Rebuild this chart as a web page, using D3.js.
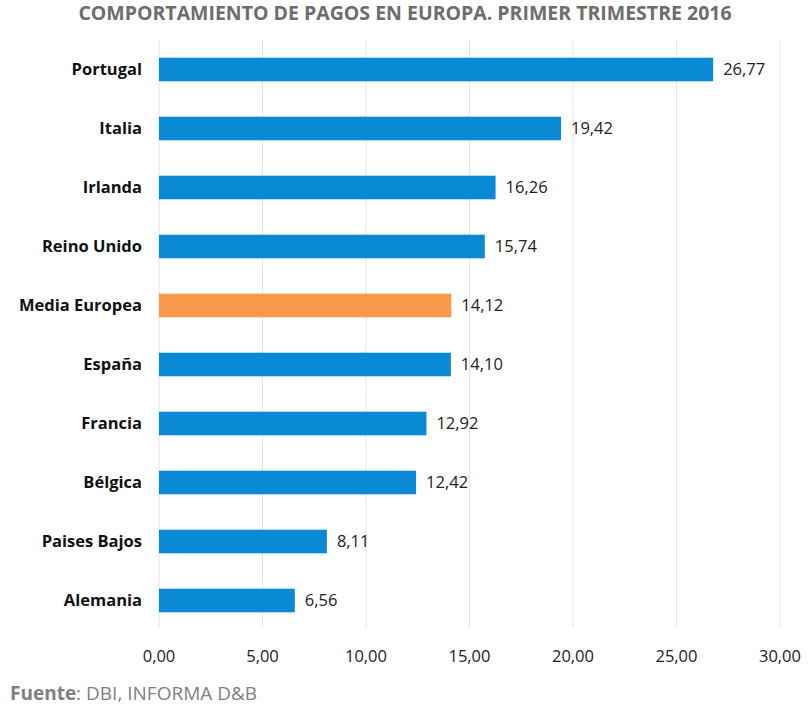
<!DOCTYPE html>
<html><head><meta charset="utf-8">
<script src="https://cdn.jsdelivr.net/npm/d3@7"></script>
<style>body{margin:0;background:#fff;font-family:"Open Sans",sans-serif;}</style>
</head><body>
<script>
// data
var countries = ["Portugal","Italia","Irlanda","Reino Unido","Media Europea","España","Francia","Bélgica","Paises Bajos","Alemania"];
var values = [26.77,19.42,16.26,15.74,14.12,14.10,12.92,12.42,8.11,6.56];
var ticks = [0,5,10,15,20,25,30];

var fmt = function(v){ return v.toFixed(2).replace(".", ","); };

var svg = d3.select("body").append("svg").attr("width",810).attr("height",712);

var x = d3.scaleLinear().domain([0,30]).range([159,780]);
var y = d3.scaleBand().domain(countries).range([40,630]).paddingInner(0.6).paddingOuter(0.3);

svg.append("text").attr("x",405).attr("y",20).attr("text-anchor","middle")
  .attr("font-size",19.5).attr("font-weight","bold").attr("fill","#6d6d6d")
  .text("COMPORTAMIENTO DE PAGOS EN EUROPA. PRIMER TRIMESTRE 2016");

// gridlines
svg.append("g").selectAll("line").data(ticks).enter().append("line")
  .attr("x1",function(d){return x(d);}).attr("x2",function(d){return x(d);})
  .attr("y1",40).attr("y2",628).attr("stroke","#e6e6e6");

// axis labels
svg.append("g").selectAll("text").data(ticks).enter().append("text")
  .attr("x",function(d){return x(d);}).attr("y",662).attr("text-anchor","middle")
  .attr("font-size",16.5).attr("fill","#222").text(fmt);

var rows = svg.append("g").selectAll("g").data(countries).enter().append("g");

rows.append("rect")
  .attr("x",x(0)).attr("y",function(d){return y(d);})
  .attr("height",y.bandwidth())
  .attr("width",function(d,i){return x(values[i])-x(0);})
  .attr("fill",function(d){return d==="Media Europea" ? "#f7984a" : "#0a8ad4";});

rows.append("text")
  .attr("x",142).attr("y",function(d){return y(d)+y.bandwidth()/2;})
  .attr("dy","0.35em").attr("text-anchor","end")
  .attr("font-size",16.5).attr("font-weight","bold").attr("fill","#111").text(function(d){return d;});

rows.append("text")
  .attr("x",function(d,i){return x(values[i])+10;}).attr("y",function(d){return y(d)+y.bandwidth()/2;})
  .attr("dy","0.35em").attr("font-size",16.5).attr("fill","#222")
  .text(function(d,i){return fmt(values[i]);});

var foot = svg.append("text").attr("x",10).attr("y",700).attr("font-size",19).attr("fill","#808080");
foot.append("tspan").attr("font-weight","bold").text("Fuente");
foot.append("tspan").text(": DBI, INFORMA D&B");
</script>
</body></html>
